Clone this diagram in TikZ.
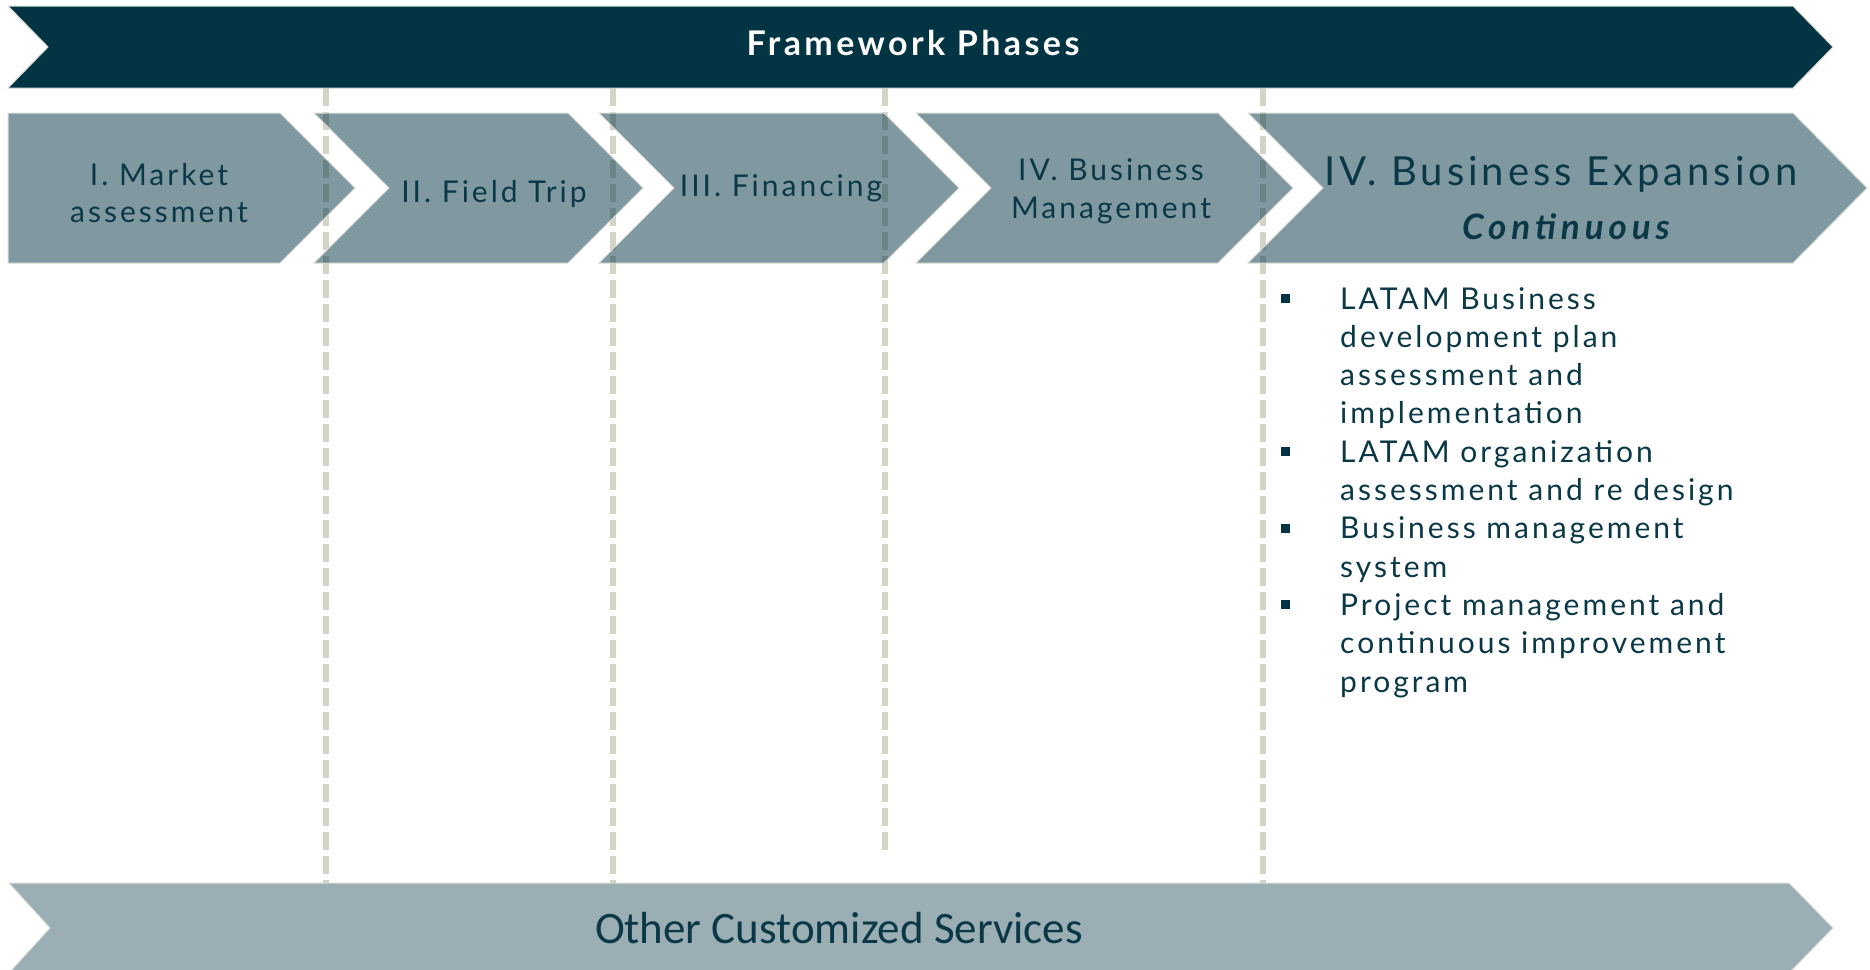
\documentclass[tikz,border=0pt]{standalone}
\usepackage{fontspec}
\setmainfont{Lato}
\newfontfamily\phasefont[LetterSpace=10,WordSpace=1.7]{Lato}
\newfontfamily\bigfont[LetterSpace=10]{Lato}
\newfontfamily\contfont[LetterSpace=14]{Lato}
\newfontfamily\svcfont{Carlito}
\definecolor{dteal}{RGB}{2,52,67}
\definecolor{txtteal}{RGB}{10,56,70}
\definecolor{dashcol}{RGB}{211,212,198}
\definecolor{edgecol}{RGB}{218,220,212}
\tikzset{
  banner/.style={fill=dteal, draw=edgecol, line width=1pt},
  phase/.style={fill=dteal, fill opacity=0.5, draw=edgecol, line width=1pt},
  svc/.style={fill=dteal, fill opacity=0.4, draw=edgecol, line width=1pt},
  sepline/.style={draw=dashcol, line width=6pt, dash pattern=on 18pt off 6pt},
  plabel/.style={text=txtteal, inner sep=0pt, anchor=base, font=\phasefont\fontsize{30}{36}\selectfont},
  blabel/.style={text=txtteal, inner sep=0pt, anchor=base west, font=\phasefont\fontsize{30}{36}\selectfont},
  bsq/.style={fill=dteal, minimum size=9pt, inner sep=0pt},
}
\begin{document}
\begin{tikzpicture}[x=1pt,y=-1pt]
\useasboundingbox (0,0) rectangle (1870,969);
% separator lines
\coordinate (s1t) at (325.5,88);  \coordinate (s1b) at (325.5,883);
\coordinate (s2t) at (612.5,88);  \coordinate (s2b) at (612.5,883);
\coordinate (s3t) at (885,88);    \coordinate (s3b) at (885,852);
\coordinate (s4t) at (1263,88);   \coordinate (s4b) at (1263,883);
\draw[sepline] (s1t) -- (s1b);
\draw[sepline] (s2t) -- (s2b);
\draw[sepline] (s3t) -- (s3b);
\draw[sepline] (s4t) -- (s4b);
% top banner
\path[banner] (8,6) -- (1793,6) -- (1833,47) -- (1793,88) -- (8,88) -- (48,47) -- cycle;
% phase chevrons
\path[phase] (8,113) -- (280,113) -- (355,188) -- (280,263) -- (8,263) -- cycle;
\path[phase] (314,113) -- (568,113) -- (643,188) -- (568,263) -- (314,263) -- (389,188) -- cycle;
\path[phase] (599,113) -- (884,113) -- (959,188) -- (884,263) -- (599,263) -- (674,188) -- cycle;
\path[phase] (916,113) -- (1218,113) -- (1293,188) -- (1218,263) -- (916,263) -- (991,188) -- cycle;
\path[phase] (1248,113) -- (1793,113) -- (1867,188) -- (1793,263) -- (1248,263) -- (1323,188) -- cycle;
% bottom banner
\path[svc] (9,883) -- (1789,883) -- (1833,928) -- (1789,973) -- (9,973) -- (50,928) -- cycle;
% texts
\node[font=\phasefont\bfseries\fontsize{34}{40}\selectfont, text=white, inner sep=0pt, anchor=base] (title) at (913,55) {Framework Phases};
\node[plabel] (p1a) at (159,185) {I. Market};
\node[plabel] (p1b) at (159,222) {assessment};
\node[plabel] (p2) at (494,202) {II. Field Trip};
\node[plabel] (p3) at (781,196) {III. Financing};
\node[plabel] (p4a) at (1111,180) {IV. Business};
\node[plabel] (p4b) at (1111,218) {Management};
\node[plabel, font=\bigfont\fontsize{40}{48}\selectfont] (p5a) at (1561,185) {IV. Business Expansion};
\node[plabel, font=\contfont\bfseries\itshape\fontsize{35}{40}\selectfont] (p5b) at (1566,239) {Continuous};
\foreach \n/\y/\t in {1/309/LATAM Business, 2/347.3/development plan, 3/385.6/assessment and, 4/423.9/implementation, 5/462.2/LATAM organization, 6/500.5/assessment and re design, 7/538.8/Business management, 8/577.1/system, 9/615.4/Project management and, 10/653.7/continuous improvement, 11/692/program}
  \node[blabel] (l\n) at (1340,\y) {\t};
\foreach \n/\y in {1/309, 2/462.2, 3/538.8, 4/615.4}
  \node[bsq] (m\n) at (1285.5,\y-10.5) {};
\node[font=\svcfont\fontsize{45}{54}\selectfont, text=txtteal, inner sep=0pt, anchor=base] (svc) at (839,943) {Other Customized Services};
\end{tikzpicture}
\end{document}
